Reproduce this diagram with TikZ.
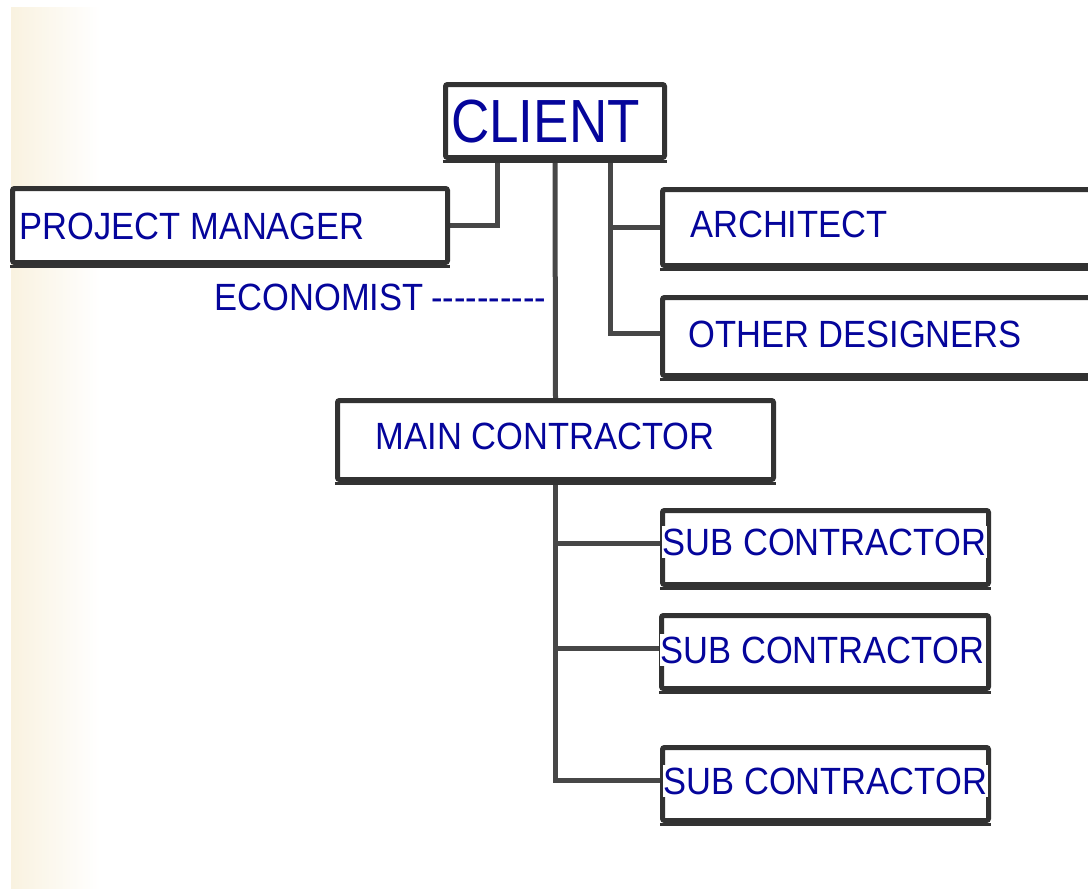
\documentclass[tikz,border=0pt]{standalone}
\usepackage{graphicx}
\usepackage{fontspec}
\newfontfamily\lab{Liberation Sans}
\definecolor{navy}{RGB}{5,5,155}
\definecolor{inkgray}{RGB}{50,50,50}
\definecolor{cream}{RGB}{249,242,224}
\pgfdeclarelayer{bg}
\pgfdeclarelayer{wires}
\pgfsetlayers{bg,wires,main}
\tikzset{
  box/.style={draw=inkgray, line width=5pt, fill=white, rounded corners=2pt, inner sep=0pt},
  wire/.style={draw=inkgray!90!white, line width=5pt},
  shadowline/.style={draw=black!80, line width=3.5pt},
  lbl/.style={text=navy, fill=white, inner xsep=1pt, inner ysep=3pt, anchor=base west,
              font=\lab\fontsize{34.5}{40}\selectfont},
  biglbl/.style={lbl, font=\lab\fontsize{53}{60}\selectfont},
}
\newcommand{\vs}[1]{\scalebox{1}[1.1]{#1}}
\newcommand{\hy}{-\kern0pt}
\begin{document}
\begin{tikzpicture}[x=1pt,y=-1pt]
\useasboundingbox (0,0) rectangle (1088,889);
\begin{pgfonlayer}{bg}
  \fill[white] (0,0) rectangle (1088,889);
  \shade[left color=cream, right color=white] (11,7) rectangle (100,889);
\end{pgfonlayer}
\clip (0,0) rectangle (1088,889);

% boxes
\node[box, minimum width=219pt, minimum height=73pt] (client) at (555,121) {};
\node[box, minimum width=435pt, minimum height=74pt] (pm) at (230,225.5) {};
\node[box, minimum width=430pt, minimum height=76pt] (arch) at (877.5,227.5) {};
\node[box, minimum width=430pt, minimum height=78pt] (other) at (877.5,336.5) {};
\node[box, minimum width=436pt, minimum height=79pt] (main) at (555.5,440) {};
\node[box, minimum width=326pt, minimum height=74pt] (sub1) at (825.5,547.5) {};
\node[box, minimum width=327pt, minimum height=73pt] (sub2) at (825,652) {};
\node[box, minimum width=326pt, minimum height=73pt] (sub3) at (825.5,784) {};

% shadows under boxes
\foreach \b in {client,pm,arch,other,main,sub1,sub2,sub3}{
  \draw[shadowline] ([yshift=-1.5pt]\b.south west) -- ([yshift=-1.5pt]\b.south east);
}

% connectors
\begin{pgfonlayer}{wires}
  \coordinate (pmtap) at (497,121);
  \draw[wire] (pmtap) |- (pm.east);
  \draw[wire] (client.south) -- (main.north);
  \coordinate (rtap) at (610,121);
  \coordinate (o1) at ([yshift=3pt]other.west);
  \draw[wire] (rtap) |- (o1);
  \draw[wire] (rtap |- arch.west) -- (arch.west);
  \coordinate (s1) at ([yshift=4pt]sub1.west);
  \coordinate (s2) at ([yshift=4pt]sub2.west);
  \coordinate (s3) at ([yshift=4pt]sub3.west);
  \draw[wire] (main.south) |- (s3);
  \draw[wire] (main.south |- s1) -- (s1);
  \draw[wire] (main.south |- s2) -- (s2);
\end{pgfonlayer}

% labels
\node[biglbl] (tclient) at (450,142) {\scalebox{1}[1.15]{CLIENT}};
\node[lbl] (tpm) at (18.5,239) {\vs{PROJECT MANAGER}};
\node[lbl] (tecon) at (213.5,310) {\vs{ECONOMIST\kern-2pt{} \hy\hy\hy\hy\hy\hy\hy\hy\hy\hy}};
\node[lbl] (tarch) at (689,237) {\vs{ARCHITECT}};
\node[lbl] (tother) at (687,347) {\vs{OTHER DESIGNERS}};
\node[lbl] (tmain) at (374.5,449) {\vs{MAIN CONTRACTOR}};
\node[lbl] (tsub1) at (661.5,555) {\vs{SUB CONTRACTOR}};
\node[lbl] (tsub2) at (659.5,663) {\vs{SUB CONTRACTOR}};
\node[lbl] (tsub3) at (662.5,794) {\vs{SUB CONTRACTOR}};
\end{tikzpicture}
\end{document}
